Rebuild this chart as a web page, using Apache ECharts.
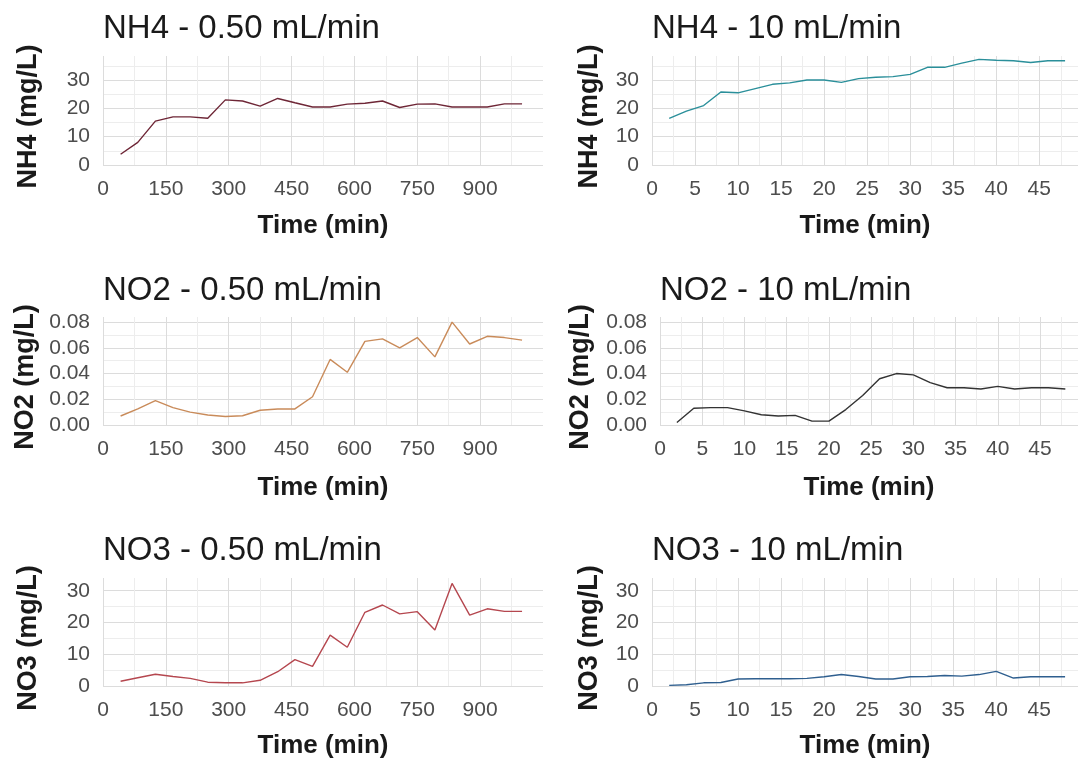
<!DOCTYPE html>
<html><head><meta charset="utf-8">
<script src="https://cdn.jsdelivr.net/npm/echarts@6/dist/echarts.min.js"></script>
<style>html,body{margin:0;padding:0;background:#fff}#c{width:1083px;height:762px}</style>
</head><body><div id="c"></div><script>
// ---- data ----
const timeSlow = [42,83,125,167,208,250,292,333,375,417,458,500,542,583,625,667,708,750,792,833,875,917,958,1000];
const timeFast = [2,4,6,8,10,12,14,16,18,20,22,24,26,28,30,32,34,36,38,40,42,44,46,48];
const nh4Slow = [3.8,8,15.5,17,17,16.5,23,22.6,20.8,23.5,22,20.5,20.5,21.5,21.8,22.6,20.3,21.5,21.6,20.5,20.5,20.5,21.6,21.6];
const nh4Fast = [16.5,19,21,25.8,25.5,27,28.5,29,30,30,29.2,30.5,31,31.2,32,34.5,34.5,36,37.3,37,36.8,36.2,36.8,36.8];
const no2Slow = [0.007,0.0125,0.019,0.0135,0.010,0.0078,0.0066,0.0072,0.0115,0.0125,0.0125,0.022,0.051,0.041,0.065,0.067,0.060,0.068,0.053,0.080,0.063,0.069,0.068,0.066];
const no2Fast = [0.002,0.013,0.0135,0.0135,0.011,0.008,0.007,0.0075,0.003,0.003,0.012,0.023,0.036,0.040,0.039,0.033,0.029,0.029,0.028,0.030,0.028,0.029,0.029,0.028];
const no3Slow = [1.5,2.6,3.7,3.0,2.4,1.2,1.0,1.0,1.8,4.5,8.3,6.2,16,12.2,23.2,25.5,22.7,23.4,17.6,32.3,22.3,24.3,23.5,23.5];
const no3Fast = [0.2,0.4,1.0,1.1,2.2,2.3,2.3,2.3,2.4,2.9,3.6,3.0,2.2,2.2,2.9,3.0,3.3,3.1,3.6,4.6,2.5,2.9,2.9,2.9];
const panelTitles = ['NH4 - 0.50 mL/min','NH4 - 10 mL/min','NO2 - 0.50 mL/min','NO2 - 10 mL/min','NO3 - 0.50 mL/min','NO3 - 10 mL/min'];
const yNames = ['NH4 (mg/L)','NO2 (mg/L)','NO3 (mg/L)'];
const xName = 'Time (min)';

// ---- layout / style ----
const FONT = "'Liberation Sans', Arial, Helvetica, sans-serif";
const panels = [
  {t:timeSlow, y:nh4Slow, color:'#6e2636', grid:{left:103,top:56,width:440,height:109}, xmax:1050, xint:75, xlab:150, ymax:38.5, yint:5, ylab:10, dec:0, yGap:61, xGap:48, titleTop:12},
  {t:timeFast, y:nh4Fast, color:'#2a8f9a', grid:{left:652,top:56,width:426,height:109}, xmax:49.5, xint:2.5, xlab:5, ymax:38.5, yint:5, ylab:10, dec:0, yGap:49, xGap:48, titleTop:12},
  {t:timeSlow, y:no2Slow, color:'#c98b5a', grid:{left:103,top:317,width:440,height:108}, xmax:1050, xint:75, xlab:150, ymax:0.084, yint:0.01, ylab:0.02, dec:2, yGap:64, xGap:50, titleTop:274},
  {t:timeFast, y:no2Fast, color:'#333333', grid:{left:660,top:317,width:418,height:108}, xmax:49.5, xint:2.5, xlab:5, ymax:0.084, yint:0.01, ylab:0.02, dec:2, yGap:66, xGap:50, titleTop:274},
  {t:timeSlow, y:no3Slow, color:'#b5474f', grid:{left:103,top:578,width:440,height:108}, xmax:1050, xint:75, xlab:150, ymax:34, yint:5, ylab:10, dec:0, yGap:61, xGap:47, titleTop:534},
  {t:timeFast, y:no3Fast, color:'#2f5f8f', grid:{left:652,top:578,width:426,height:108}, xmax:49.5, xint:2.5, xlab:5, ymax:34, yint:5, ylab:10, dec:0, yGap:49, xGap:47, titleTop:534}
];
const gridColors = ['#dcdcdc','#ededed'];
const isMult = (v, m) => { const r = v / m; return Math.abs(r - Math.round(r)) < 1e-6; };

const option = {
  backgroundColor:'#ffffff',
  animation:false,
  title: panels.map((p,i)=>({text:panelTitles[i], left:p.grid.left, top:p.titleTop, padding:0,
    textStyle:{fontFamily:FONT, fontSize:33, fontWeight:'normal', color:'#1a1a1a'}})),
  grid: panels.map(p=>Object.assign({containLabel:false}, p.grid)),
  xAxis: panels.map((p,i)=>({
    type:'value', gridIndex:i, min:0, max:p.xmax, interval:p.xint,
    axisLine:{show:false}, axisTick:{show:false},
    axisLabel:{formatter:v=> isMult(v,p.xlab) && v < p.xmax ? String(v) : '', showMaxLabel:false, margin:14,
      fontFamily:FONT, fontSize:21, color:'#4d4d4d'},
    splitLine:{show:true, showMaxLine:false, lineStyle:{color:gridColors, width:1}},
    name:xName, nameLocation:'middle', nameGap:p.xGap,
    nameTextStyle:{fontFamily:FONT, fontSize:26, fontWeight:'bold', color:'#1a1a1a'}
  })),
  yAxis: panels.map((p,i)=>({
    type:'value', gridIndex:i, min:0, max:p.ymax, interval:p.yint,
    axisLine:{show:false}, axisTick:{show:false},
    axisLabel:{formatter:v=> isMult(v,p.ylab) && v < p.ymax ? v.toFixed(p.dec) : '', showMaxLabel:false, margin:13,
      fontFamily:FONT, fontSize:21, color:'#4d4d4d'},
    splitLine:{show:true, showMaxLine:false, lineStyle:{color:gridColors, width:1}},
    name:yNames[Math.floor(i/2)], nameLocation:'middle', nameGap:p.yGap,
    nameTextStyle:{fontFamily:FONT, fontSize:27, fontWeight:'bold', color:'#1a1a1a', padding:[0,12,0,0]}
  })),
  series: panels.map((p,i)=>({
    type:'line', xAxisIndex:i, yAxisIndex:i, showSymbol:false, symbol:'none',
    lineStyle:{color:p.color, width:1.4}, itemStyle:{color:p.color},
    data:p.t.map((t,k)=>[t,p.y[k]])
  }))
};
const chart = echarts.init(document.getElementById('c'), null, {renderer:'canvas'});
chart.setOption(option);
</script></body></html>
